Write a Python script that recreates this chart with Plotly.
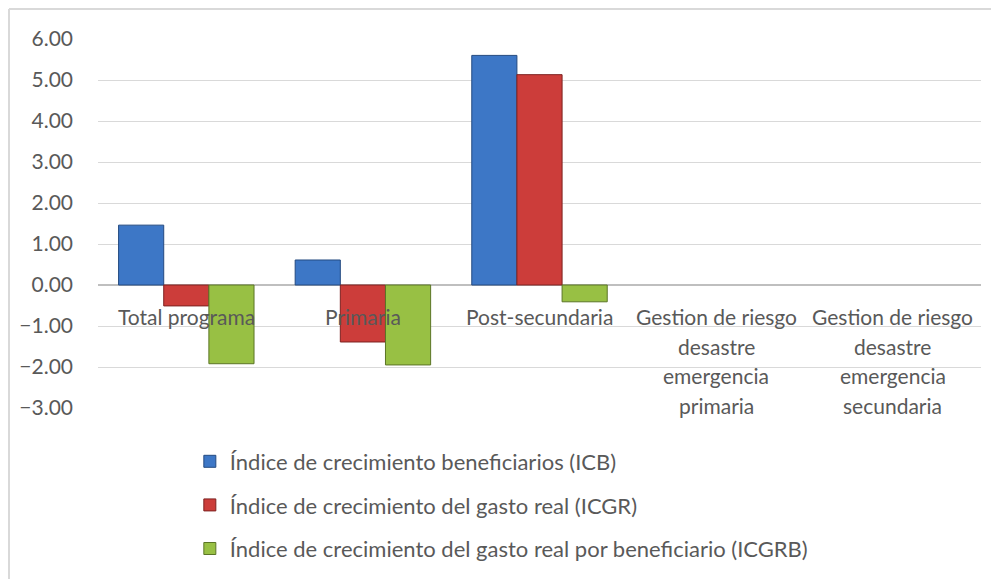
import plotly.graph_objects as go

categorias = ["Total programa", "Primaria", "Post-secundaria",
              "Gestion de riesgo desastre emergencia primaria",
              "Gestion de riesgo desastre emergencia secundaria"]
etiquetas = [["Total programa"], ["Primaria"], ["Post-secundaria"],
             ["Gestion de riesgo", "desastre", "emergencia", "primaria"],
             ["Gestion de riesgo", "desastre", "emergencia", "secundaria"]]

icb = [1.46, 0.61, 5.60, None, None]
icgr = [-0.51, -1.39, 5.13, None, None]
icgrb = [-1.92, -1.95, -0.41, None, None]

series = [
    ("Índice de crecimiento beneficiarios (ICB)", icb, "#3d77c6", "#244a80"),
    ("Índice de crecimiento del gasto real (ICGR)", icgr, "#cc3d3a", "#7e2220"),
    ("Índice de crecimiento del gasto real por beneficiario (ICGRB)", icgrb, "#98c044", "#5b7526"),
]

FONT = "Lato"
GRIS = "#595959"

fig = go.Figure()
for i, (nombre, valores, color, borde) in enumerate(series):
    fig.add_trace(go.Bar(
        x=categorias, y=valores, name=nombre, legendgroup=str(i),
        marker=dict(color=color, line=dict(color=borde, width=1)),
    ))

# etiquetas de categoria junto al eje cero, como en Excel
for cat, lineas in zip(categorias, etiquetas):
    for j, linea in enumerate(lineas):
        fig.add_annotation(
            x=cat, y=0, text=linea, showarrow=False,
            yanchor="top", yshift=-17 - 29.5 * j,
            font=dict(family=FONT, size=21, color=GRIS),
        )

# titulo (recortado en el original) y marco del grafico
fig.add_annotation(
    xref="paper", yref="paper", x=0.5, y=1.081, yanchor="bottom", yshift=2,
    text="<b>Indicadores de desempeño 2012-2013</b>", showarrow=False,
    font=dict(family=FONT, size=19, color="black"),
)
fig.add_shape(type="line", xref="paper", yref="paper",
              x0=-0.1008, x1=1.05, y0=1.081, y1=1.081,
              line=dict(color="#d9d9d9", width=2))
fig.add_shape(type="line", xref="paper", yref="paper",
              x0=-0.1008, x1=-0.1008, y0=1.081, y1=-0.5,
              line=dict(color="#d9d9d9", width=2))

# la pagina tiene un margen de 8 px: la figura se reduce para compensarlo
fig.update_layout(
    width=991, height=571,
    margin=dict(l=90, r=18, t=31, b=171, autoexpand=False),
    paper_bgcolor="white", plot_bgcolor="white",
    barmode="group", bargap=0.233, bargroupgap=0,
    font=dict(family=FONT, size=21, color=GRIS),
    showlegend=True,
    legend=dict(orientation="v", x=0.104, y=-0.0881, xanchor="left", yanchor="top",
                tracegroupgap=12, bgcolor="rgba(0,0,0,0)",
                font=dict(family=FONT, size=22, color=GRIS)),
    xaxis=dict(showticklabels=False, showgrid=False, showline=False, ticks=""),
    yaxis=dict(range=[-3, 6], dtick=1, tickformat=".2f",
               showgrid=True, gridcolor="#d9d9d9", gridwidth=1,
               zeroline=True, zerolinecolor="#bfbfbf", zerolinewidth=2,
               ticks="", ticklabelstandoff=24,
               tickfont=dict(family=FONT, size=21, color=GRIS)),
)

fig.write_html("out.html")
